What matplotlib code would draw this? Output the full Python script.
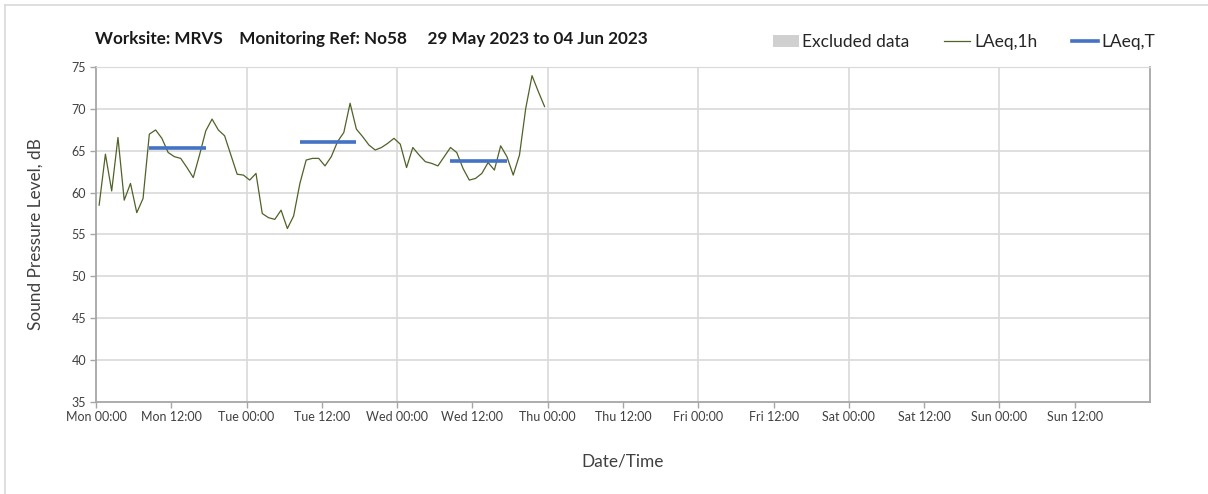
import matplotlib
matplotlib.use("Agg")
import matplotlib.pyplot as plt
from matplotlib.lines import Line2D
from matplotlib.patches import Patch

plt.rcParams['font.family'] = ['Lato', 'DejaVu Sans']

# hourly LAeq,1h values starting Mon 00:00 (plotted at mid-hour)
laeq_1h = [58.5, 64.6, 60.2, 66.6, 59.1, 61.1, 57.6, 59.3, 67.0, 67.5, 66.5, 64.8,
           64.3, 64.1, 63.0, 61.8, 64.5, 67.4, 68.8, 67.5, 66.8, 64.5, 62.2, 62.1,
           61.5, 62.3, 57.5, 57.0, 56.8, 57.9, 55.7, 57.2, 61.1, 63.9, 64.1, 64.1,
           63.2, 64.3, 66.1, 67.2, 70.7, 67.6, 66.7, 65.7, 65.1, 65.4, 65.9, 66.5,
           65.8, 63.0, 65.4, 64.5, 63.7, 63.5, 63.2, 64.3, 65.4, 64.8, 62.9, 61.5,
           61.7, 62.3, 63.6, 62.7, 65.6, 64.3, 62.1, 64.5, 70.1, 74.0, 72.1, 70.3]
hours = [h + 0.5 for h in range(len(laeq_1h))]

# LAeq,T periods (start hour, end hour, level)
laeq_t_start = [8.5, 32.5, 56.5]
laeq_t_end = [17.5, 41.5, 65.5]
laeq_t_value = [65.4, 66.0, 63.8]

tick_hours = list(range(0, 168, 12))
tick_labels = ["Mon 00:00", "Mon 12:00", "Tue 00:00", "Tue 12:00", "Wed 00:00",
               "Wed 12:00", "Thu 00:00", "Thu 12:00", "Fri 00:00", "Fri 12:00",
               "Sat 00:00", "Sat 12:00", "Sun 00:00", "Sun 12:00"]
day_lines = list(range(24, 168, 24))
y_ticks = list(range(35, 80, 5))

W, H = 1208, 494
fig = plt.figure(figsize=(W / 100, H / 100), dpi=100)
ax = fig.add_axes([96 / W, 1 - 401.5 / H, (1150 - 96) / W, (401.5 - 67.3) / H])

line_green = '#4F6228'
blue = '#4472C4'
grid_c = '#D9D9D9'
spine_c = '#A6A6A6'
text_c = '#404040'

ax.set_xlim(0, 168)
ax.set_ylim(35, 75)
for y in y_ticks[1:]:
    ax.axhline(y, color=grid_c, lw=1.2, zorder=0)
for d in day_lines:
    ax.axvline(d, color=grid_c, lw=1.2, zorder=0)

ax.plot(hours, laeq_1h, color=line_green, lw=0.9, zorder=3)
for s, e, v in zip(laeq_t_start, laeq_t_end, laeq_t_value):
    ax.plot([s, e], [v, v], color=blue, lw=2.6, solid_capstyle='butt', zorder=4)

ax.set_xticks(tick_hours)
ax.set_xticklabels(tick_labels, fontsize=9, color=text_c)
ax.set_yticks(y_ticks)
ax.set_yticklabels([str(v) for v in y_ticks], fontsize=9, color=text_c)
ax.tick_params(axis='both', length=4, width=1, color=spine_c, pad=3)
ax.spines['top'].set_color(grid_c)
for s in ['left', 'bottom', 'right']:
    ax.spines[s].set_color(spine_c)
    ax.spines[s].set_linewidth(1.3)

ax.set_ylabel("Sound Pressure Level, dB", fontsize=12.4, color=text_c, labelpad=20)
ax.set_xlabel("Date/Time", fontsize=12.4, color=text_c, labelpad=22)

fig.text(95 / W, 1 - 39 / H, "Worksite: MRVS    Monitoring Ref: No58     29 May 2023 to 04 Jun 2023",
         fontsize=12.3, fontweight='bold', color='#1a1a1a', va='center', ha='left')

handles = [Patch(facecolor='#D0D0D0', edgecolor='none'),
           Line2D([0], [0], color=line_green, lw=0.9),
           Line2D([0], [0], color=blue, lw=2.6)]
fig.legend(handles, ["Excluded data", "LAeq,1h", "LAeq,T"], loc='center',
           bbox_to_anchor=(964 / W, 1 - 42 / H), ncol=3, frameon=False,
           fontsize=12.5, handlelength=1.5, handletextpad=0.2, columnspacing=2.0,
           labelcolor='#262626')

# outer frame (left and top visible)
fig.add_artist(Line2D([5 / W, 5 / W], [0, 1 - 5.5 / H], color='#D9D9D9', lw=1.2,
                      transform=fig.transFigure))
fig.add_artist(Line2D([5 / W, 1], [1 - 5.5 / H, 1 - 5.5 / H], color='#D9D9D9', lw=1.2,
                      transform=fig.transFigure))

fig.savefig("out.png", dpi=100, facecolor='white')
